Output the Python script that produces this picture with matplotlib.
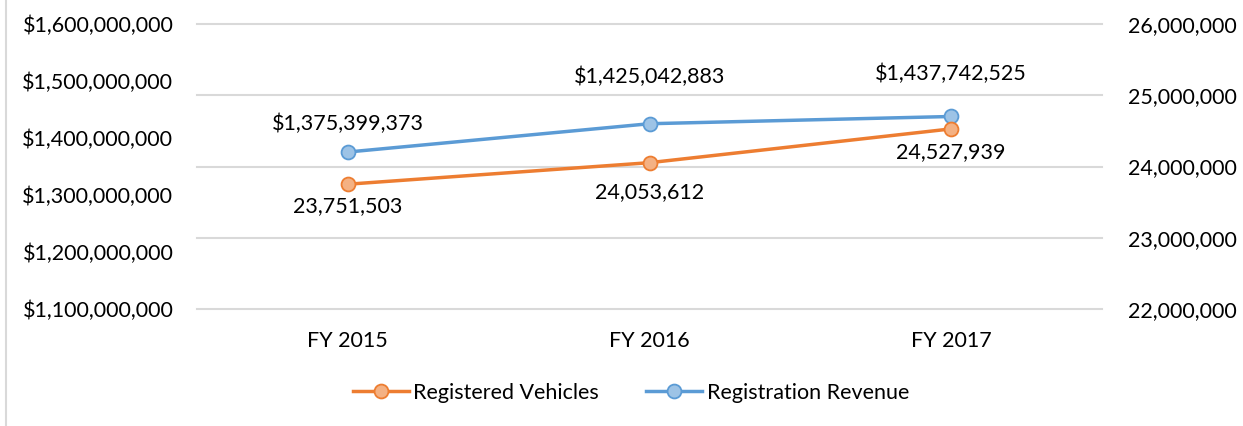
import matplotlib
matplotlib.use("Agg")
import matplotlib.pyplot as plt
from matplotlib.ticker import FuncFormatter
from matplotlib.lines import Line2D

plt.rcParams['font.family'] = ['Lato', 'DejaVu Sans']

categories = ["FY 2015", "FY 2016", "FY 2017"]
revenue = [1375399373, 1425042883, 1437742525]
vehicles = [23751503, 24053612, 24527939]
left_ticks = [1100000000, 1200000000, 1300000000, 1400000000, 1500000000, 1600000000]
right_ticks = [22000000, 23000000, 24000000, 25000000, 26000000]

# label offsets in points (style)
rev_label_dy = [20, 34, 31]
veh_label_dy = [-16, -21, -17]

orange = "#ED7D31"
orange_fill = "#F4B183"
blue = "#5B9BD5"
blue_fill = "#9DC3E6"
grid_c = "#D9D9D9"
txt = "#000000"
FS = 15.5

fig = plt.figure(figsize=(12.43, 4.26), dpi=100)
ax = fig.add_axes([197/1243, 1 - 309/426, (1102-197)/1243, (309-24)/426])
ax2 = ax.twinx()

x = list(range(len(categories)))
ax.set_xlim(-0.5, len(categories) - 0.5)
ax.set_ylim(left_ticks[0], left_ticks[-1])
ax2.set_ylim(right_ticks[0], right_ticks[-1])

# gridlines at the right-axis ticks, drawn on the bottom axes
for t in right_ticks:
    f = (t - right_ticks[0]) / (right_ticks[-1] - right_ticks[0])
    ax.plot([0, 1], [f, f], transform=ax.transAxes, color=grid_c, lw=1.5, zorder=0, clip_on=False)

ax.plot(x, revenue, color=blue, lw=2.5, marker='o', markersize=10,
        markerfacecolor=blue_fill, markeredgecolor=blue, markeredgewidth=1.3, zorder=3)
ax2.plot(x, vehicles, color=orange, lw=2.5, marker='o', markersize=10,
         markerfacecolor=orange_fill, markeredgecolor=orange, markeredgewidth=1.3, zorder=3)

for i, v in enumerate(revenue):
    ax.annotate(f"${v:,.0f}", (x[i], v), xytext=(0, rev_label_dy[i]), textcoords='offset points',
                ha='center', va='center', fontsize=FS, color=txt)
for i, v in enumerate(vehicles):
    ax2.annotate(f"{v:,.0f}", (x[i], v), xytext=(0, veh_label_dy[i]), textcoords='offset points',
                 ha='center', va='center', fontsize=FS, color=txt)

ax.set_xticks(x)
ax.set_xticklabels(categories)
ax.set_yticks(left_ticks)
ax.yaxis.set_major_formatter(FuncFormatter(lambda v, p: f"${v:,.0f}"))
ax2.set_yticks(right_ticks)
ax2.yaxis.set_major_formatter(FuncFormatter(lambda v, p: f"{v:,.0f}"))

for a in (ax, ax2):
    for s in a.spines.values():
        s.set_visible(False)
    a.tick_params(length=0, labelsize=FS, colors=txt)
ax.tick_params(axis='y', pad=17)
ax2.tick_params(axis='y', pad=19)
ax.tick_params(axis='x', pad=16)

handles = [
    Line2D([0], [0], color=orange, lw=2.5, marker='o', markersize=10,
           markerfacecolor=orange_fill, markeredgecolor=orange, markeredgewidth=1.3),
    Line2D([0], [0], color=blue, lw=2.5, marker='o', markersize=10,
           markerfacecolor=blue_fill, markeredgecolor=blue, markeredgewidth=1.3),
]
fig.legend(handles, ["Registered Vehicles", "Registration Revenue"], loc='center',
           bbox_to_anchor=(631/1243, 1 - 393/426), ncol=2, frameon=False, fontsize=FS,
           handlelength=2.6, handletextpad=0.2, columnspacing=2.2)

# chart border at left edge
fig.add_artist(Line2D([5.5/1243, 5.5/1243], [0, 1], transform=fig.transFigure, color=grid_c, lw=1.5))

fig.savefig("out.png", dpi=100)
